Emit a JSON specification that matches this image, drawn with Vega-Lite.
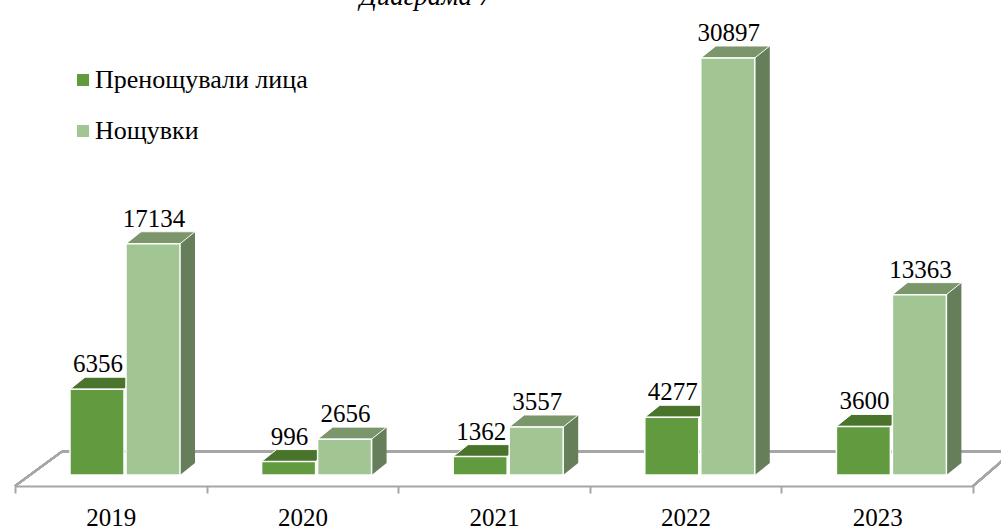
{
  "$schema": "https://vega.github.io/schema/vega-lite/v6.json",
  "width": 958,
  "height": 475,
  "autosize": "none",
  "padding": {"left": 15, "top": 0, "right": 28, "bottom": 54},
  "background": "white",
  "title": {
    "text": "Диаграма 7",
    "font": "'Liberation Serif', 'DejaVu Serif', serif",
    "fontStyle": "italic",
    "fontWeight": "normal",
    "fontSize": 27,
    "color": "black",
    "anchor": "middle",
    "frame": "group",
    "baseline": "alphabetic",
    "offset": -32,
    "dx": -68
  },
  "config": {
    "view": {"stroke": null},
    "axis": {"grid": false}
  },
  "data": {
    "values": [
      {"year": "2019", "series": "Пренощували лица", "value": 6356},
      {"year": "2019", "series": "Нощувки", "value": 17134},
      {"year": "2020", "series": "Пренощували лица", "value": 996},
      {"year": "2020", "series": "Нощувки", "value": 2656},
      {"year": "2021", "series": "Пренощували лица", "value": 1362},
      {"year": "2021", "series": "Нощувки", "value": 3557},
      {"year": "2022", "series": "Пренощували лица", "value": 4277},
      {"year": "2022", "series": "Нощувки", "value": 30897},
      {"year": "2023", "series": "Пренощували лица", "value": 3600},
      {"year": "2023", "series": "Нощувки", "value": 13363}
    ]
  },
  "encoding": {
    "x": {
      "field": "year",
      "type": "nominal",
      "scale": {"paddingInner": 0, "paddingOuter": 0},
      "axis": {
        "title": null,
        "labelAngle": 0,
        "labelFont": "'Liberation Serif', 'DejaVu Serif', serif",
        "labelFontSize": 25,
        "labelColor": "black",
        "domainColor": "#A6A6A6",
        "domainWidth": 2,
        "tickColor": "#A6A6A6",
        "tickWidth": 2,
        "tickSize": 7,
        "tickBand": "extent",
        "offset": 11,
        "labelPadding": 12
      }
    },
    "y": {
      "field": "value",
      "type": "quantitative",
      "scale": {"domain": [0, 35193]},
      "axis": null
    }
  },
  "layer": [
    {
      "mark": {"type": "rule", "color": "#A6A6A6", "strokeWidth": 2, "xOffset": 47, "x2Offset": 60, "yOffset": -23.5},
      "encoding": {
        "x": {"datum": "2019", "type": "nominal", "bandPosition": 0},
        "x2": {"datum": "2023", "bandPosition": 1},
        "y": {"datum": 0, "type": "quantitative"}
      }
    },
    {
      "mark": {"type": "rule", "color": "#A6A6A6", "strokeWidth": 2, "x2Offset": 47, "yOffset": 11, "y2Offset": -23.5},
      "encoding": {
        "x": {"datum": "2019", "type": "nominal", "bandPosition": 0},
        "x2": {"datum": "2019", "bandPosition": 0},
        "y": {"datum": 0, "type": "quantitative"},
        "y2": {"datum": 0}
      }
    },
    {
      "mark": {"type": "rule", "color": "#A6A6A6", "strokeWidth": 2, "x2Offset": 40, "yOffset": 11, "y2Offset": -23.5},
      "encoding": {
        "x": {"datum": "2023", "type": "nominal", "bandPosition": 1},
        "x2": {"datum": "2023", "bandPosition": 1},
        "y": {"datum": 0, "type": "quantitative"},
        "y2": {"datum": 0}
      }
    },
    {
      "transform": [{"filter": "datum.series === 'Нощувки'"}],
      "mark": {"type": "bar", "color": "#667E59", "width": 54, "xOffset": 57.2, "yOffset": -12, "y2Offset": -12}
    },
    {
      "transform": [{"filter": "datum.series === 'Нощувки'"}],
      "mark": {
        "type": "point",
        "shape": "M0.7826,-0.3478 L0.7826,0 L1.2174,-0.3478 Z",
        "size": 4761,
        "filled": true,
        "opacity": 1,
        "color": "#667E59",
        "strokeWidth": 0,
        "xOffset": 42.2
      },
      "encoding": {"y": {"datum": 0, "type": "quantitative"}}
    },
    {
      "transform": [{"filter": "datum.series === 'Пренощували лица'"}],
      "mark": {
        "type": "point",
        "shape": "M-0.7826,0 L0.7826,0 L1.2174,-0.3478 L-0.3478,-0.3478 Z",
        "size": 4761,
        "filled": true,
        "opacity": 1,
        "color": "#4A732C",
        "stroke": "white",
        "strokeWidth": 1,
        "xOffset": -13.8
      }
    },
    {
      "transform": [{"filter": "datum.series === 'Нощувки'"}],
      "mark": {
        "type": "point",
        "shape": "M-0.7826,0 L0.7826,0 L1.2174,-0.3478 L-0.3478,-0.3478 Z",
        "size": 4761,
        "filled": true,
        "opacity": 1,
        "color": "#7B966A",
        "stroke": "white",
        "strokeWidth": 1,
        "xOffset": 42.2
      }
    },
    {
      "transform": [{"filter": "datum.series === 'Пренощували лица'"}],
      "mark": {"type": "bar", "stroke": "white", "strokeWidth": 1.5, "width": 54, "xOffset": -13.8},
      "encoding": {
        "color": {
          "field": "series",
          "type": "nominal",
          "scale": {"domain": ["Пренощували лица", "Нощувки"], "range": ["#629A40", "#A2C693"]},
          "legend": {
            "orient": "none",
            "legendX": 55,
            "legendY": 67,
            "title": null,
            "symbolType": "square",
            "symbolSize": 144,
            "symbolStrokeWidth": 0,
            "symbolOpacity": 1,
            "labelFont": "'Liberation Serif', 'DejaVu Serif', serif",
            "labelFontSize": 26,
            "labelColor": "black",
            "labelOffset": -1,
            "labelLimit": 500,
            "rowPadding": 25,
            "padding": 0
          }
        }
      }
    },
    {
      "transform": [{"filter": "datum.series === 'Нощувки'"}],
      "mark": {"type": "bar", "stroke": "white", "strokeWidth": 1.5, "width": 54, "xOffset": 42.2},
      "encoding": {
        "color": {"field": "series", "type": "nominal"}
      }
    },
    {
      "transform": [{"filter": "datum.series === 'Пренощували лица'"}],
      "mark": {"type": "text", "font": "'Liberation Serif', 'DejaVu Serif', serif", "fontSize": 25, "color": "black", "baseline": "alphabetic", "dy": -17, "xOffset": -12.8},
      "encoding": {"text": {"field": "value", "type": "quantitative", "format": "d"}}
    },
    {
      "transform": [{"filter": "datum.series === 'Нощувки'"}],
      "mark": {"type": "text", "font": "'Liberation Serif', 'DejaVu Serif', serif", "fontSize": 25, "color": "black", "baseline": "alphabetic", "dy": -17, "xOffset": 43.2},
      "encoding": {"text": {"field": "value", "type": "quantitative", "format": "d"}}
    }
  ]
}
